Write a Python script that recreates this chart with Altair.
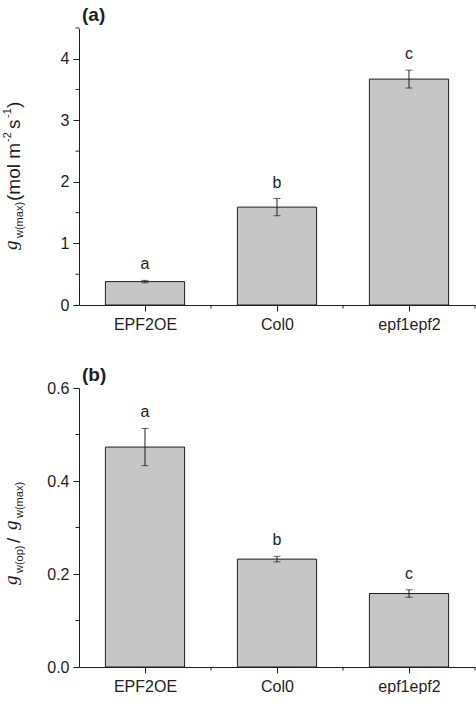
import altair as alt
import pandas as pd

# Genotypes on the x axis
genotypes = ["EPF2OE", "Col0", "epf1epf2"]

# (a) maximum stomatal conductance, mean and error
gmax_mean = [0.38, 1.59, 3.67]
gmax_err = [0.02, 0.14, 0.145]
gmax_letters = ["a", "b", "c"]

# (b) operating / maximum conductance ratio, mean and error
ratio_mean = [0.473, 0.232, 0.158]
ratio_err = [0.040, 0.006, 0.008]
ratio_letters = ["a", "b", "c"]

# Axis ticks
gmax_ticks = [0, 1, 2, 3, 4]
gmax_minor = [0.5, 1.5, 2.5, 3.5, 4.5]
ratio_ticks = [0.0, 0.2, 0.4, 0.6]
ratio_minor = [0.1, 0.3, 0.5]
group_edges = [0.5, 1.5, 2.5]

BAR_FILL = "#c6c6c6"
INK = "#1e1e1e"
SANS = "Liberation Sans"
SERIF = "Liberation Serif"
PLOT_W = 396
ONE = pd.DataFrame({"k": [0]})


def piece(text, x, y, size, font=SANS, style="normal"):
    """One rotated fragment of a y-axis title."""
    return alt.Chart(ONE).mark_text(
        text=text, angle=270, align="left", baseline="alphabetic",
        font=font, fontSize=size, fontStyle=style, color=INK,
    ).encode(x=alt.value(x), y=alt.value(y))


def panel(mean, err, letters, ymax, major, minor, fmt, tag, title_layers, height):
    pos = list(range(len(genotypes)))
    df = pd.DataFrame({
        "pos": pos,
        "name": genotypes,
        "mean": mean,
        "lo": [m - e for m, e in zip(mean, err)],
        "hi": [m + e for m, e in zip(mean, err)],
        "left": [p - 0.3 for p in pos],
        "right": [p + 0.3 for p in pos],
        "letter": letters,
    })
    xs = alt.Scale(domain=[-0.5, len(genotypes) - 0.5], nice=False, zero=False)
    ys = alt.Scale(domain=[0, ymax], nice=False)
    label_expr = "[" + ",".join(f"'{g}'" for g in genotypes) + "][datum.value]"
    x_axis = alt.Axis(values=pos, labelExpr=label_expr, title=None, tickSize=6,
                      labelPadding=5, labelFontSize=16, labelAngle=0)
    y_axis = alt.Axis(values=major, format=fmt, title=None, tickSize=6,
                      labelPadding=4, labelFontSize=16)

    def X(field):
        return alt.X(field, scale=xs, axis=x_axis)

    def Y(field):
        return alt.Y(field, scale=ys, axis=y_axis)

    bars = alt.Chart(df).mark_rect(fill=BAR_FILL, stroke=INK, strokeWidth=1).encode(
        x=X("left:Q"), x2="right:Q", y=Y("mean:Q"), y2=alt.datum(0),
    )
    stems = alt.Chart(df).mark_rule(color=INK, strokeWidth=1).encode(
        x=X("pos:Q"), y=Y("lo:Q"), y2="hi:Q"
    )
    caps_lo = alt.Chart(df).mark_tick(orient="horizontal", size=7, thickness=1, color=INK).encode(
        x=X("pos:Q"), y=Y("lo:Q")
    )
    caps_hi = alt.Chart(df).mark_tick(orient="horizontal", size=7, thickness=1, color=INK).encode(
        x=X("pos:Q"), y=Y("hi:Q")
    )
    marks = alt.Chart(df).mark_text(dy=-11, baseline="alphabetic", fontSize=16, font=SANS, color=INK).encode(
        x=X("pos:Q"), y=Y("hi:Q"), text="letter:N"
    )
    y_minor = alt.Chart(pd.DataFrame({"v": minor})).mark_rule(color=INK, strokeWidth=1).encode(
        y=Y("v:Q"), x=alt.value(0), x2=alt.value(-3.5)
    )
    x_minor = alt.Chart(pd.DataFrame({"v": group_edges})).mark_rule(color=INK, strokeWidth=1).encode(
        x=X("v:Q"), y=alt.value(height), y2=alt.value(height + 3.5)
    )
    tag_text = alt.Chart(ONE).mark_text(
        text=tag, align="left", baseline="alphabetic", fontSize=19, fontWeight="bold",
        font=SANS, color=INK,
    ).encode(x=alt.value(3), y=alt.value(-7))

    return alt.layer(
        bars, stems, caps_lo, caps_hi, marks, y_minor, x_minor, tag_text, *title_layers
    ).properties(width=PLOT_W, height=height)


gmax_title = [
    piece("g", -62, 222, 19, font=SERIF, style="italic"),
    piece("w(max)", -56, 210, 11),
    piece("(mol m", -59, 173, 19),
    piece("-2", -68, 114, 11),
    piece("s", -59, 101, 19),
    piece("-1", -68, 90, 11),
    piece(")", -59, 80, 19),
]

ratio_title = [
    piece("g", -62, 197, 19, font=SERIF, style="italic"),
    piece("w(op)", -56, 185, 11),
    piece("/", -59, 155, 19),
    piece("g", -62, 142, 19, font=SERIF, style="italic"),
    piece("w(max)", -56, 130, 11),
]

top = panel(gmax_mean, gmax_err, gmax_letters, 4.5, gmax_ticks, gmax_minor, "d",
            "(a)", gmax_title, 277)
bottom = panel(ratio_mean, ratio_err, ratio_letters, 0.6, ratio_ticks, ratio_minor, ".1f",
               "(b)", ratio_title, 279)

chart = alt.vconcat(top, bottom, spacing=83, bounds="flush").properties(
    padding={"left": 2, "top": 6, "right": 0, "bottom": 0}
).configure_view(stroke=None).configure_axis(
    grid=False, domainColor=INK, tickColor=INK, labelColor=INK, labelFont=SANS,
    domainWidth=1, tickWidth=1,
)

chart.save("out.html", embed_options={"renderer": "svg", "actions": False})
